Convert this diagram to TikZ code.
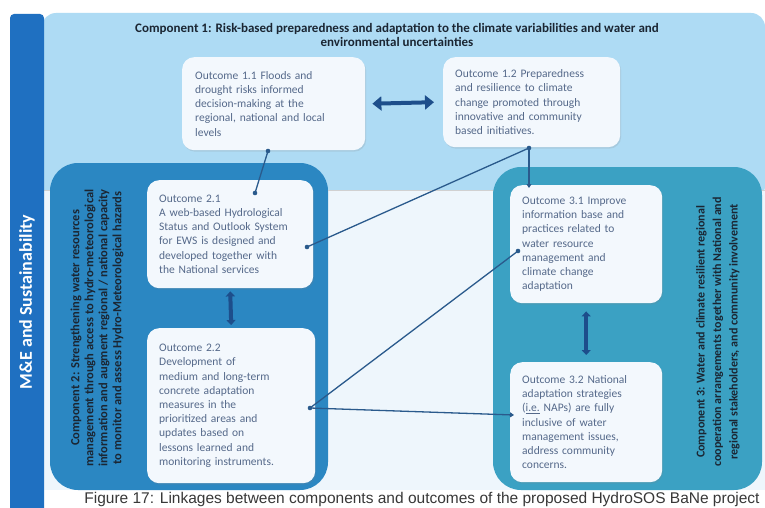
\documentclass[tikz,border=0pt]{standalone}
\usepackage{fontspec}
\setmainfont{Carlito}
\newfontfamily\capfont{Liberation Sans}
\usetikzlibrary{arrows.meta,shadows}
\definecolor{barblue}{HTML}{1F70C1}
\definecolor{skyblue}{HTML}{AEDBF4}
\definecolor{midpale}{HTML}{EEF6FC}
\definecolor{comptwo}{HTML}{2B87C2}
\definecolor{compthree}{HTML}{3BA1C3}
\definecolor{boxfill}{HTML}{F3F8FD}
\definecolor{linkblue}{HTML}{2A5A8C}
\definecolor{arrowblue}{HTML}{1D4E8B}
\definecolor{outtext}{HTML}{55698A}
\definecolor{comptext}{HTML}{1B2633}
\def\linkdot(#1){\fill[linkblue] (#1) circle (2.3);}
\tikzset{
	outcome/.style={rectangle, rounded corners=12pt, fill=boxfill, anchor=north west, inner sep=0pt, align=left,
		font=\fontsize{11.5}{14.2}\selectfont, text=outtext,
		drop shadow={opacity=0.18, shadow xshift=1pt, shadow yshift=-1.5pt}},
	complabel/.style={font=\bfseries\fontsize{12.5}{14}\selectfont, text=comptext, align=center},
	link/.style={draw=linkblue, line width=1.3pt},
	twoway/.style={draw=arrowblue, line width=4pt, {Triangle[width=14pt,length=9pt]}-{Triangle[width=14pt,length=9pt]}},
	shortway/.style={draw=arrowblue, line width=4pt, {Triangle[width=9pt,length=5pt]}-{Triangle[width=9pt,length=5pt]}},
}

\begin{document}
\begin{tikzpicture}[x=1pt,y=-1pt]
		%%%%% START %%%%%
		\useasboundingbox (0,0) rectangle (765,508);
		\fill[white] (0,0) rectangle (765,508);
		
		\fill[skyblue, rounded corners=14pt] (42,13) rectangle (765,200);
		\fill[midpale] (44,190) rectangle (765,490);
		\draw[black!18, line width=1.5pt] (44,190.5) -- (765,190.5);
		
		\fill[comptwo, rounded corners=28pt] (50,163) rectangle (328,490);
		\fill[compthree, rounded corners=28pt] (493,167) rectangle (762,490);
		
		\fill[barblue] (10,508) [rounded corners=4pt] -- (10,14) -- (44,14) [sharp corners] -- (44,508) -- cycle;
		\node[rotate=90, text=white, font=\bfseries\fontsize{18}{20}\selectfont] (me) at (27,302) {M\&E and Sustainability};
		
		\node[complabel, font=\bfseries\fontsize{13}{14.5}\selectfont] (c1) at (397,35) {Component 1: Risk-based preparedness and adaptation to the climate variabilities and water and\\environmental uncertainties};
		\node[complabel, rotate=90] (c2) at (97,328) {Component 2: Strengthening water resources\\management through access to hydro-meteorological\\information and augment regional / national capacity\\to monitor and assess Hydro-Meteorological hazards};
		\node[complabel, rotate=90, font=\bfseries\fontsize{12}{16.5}\selectfont] (c3) at (718,332) {Component 3: Water and climate resilient regional\\cooperation arrangements together with National and\\regional stakeholders, and community involvement};
		
		\node[outcome, minimum width=183pt, minimum height=93pt, text width=157pt] (o11) at (182,57) {Outcome 1.1 Floods and\\drought risks informed\\decision-making at the\\regional, national and local\\levels};
		\node[outcome, minimum width=177pt, minimum height=90pt, text width=153pt] (o12) at (443,57) {Outcome 1.2 Preparedness\\and resilience to climate\\change promoted through\\innovative and community\\based initiatives.};
		\node[outcome, minimum width=166pt, minimum height=108pt, text width=142pt] (o21) at (147,180) {Outcome 2.1\\A web-based Hydrological\\Status and Outlook System\\for EWS is designed and\\developed together with\\the National services};
		\node[outcome, minimum width=168pt, minimum height=155pt, text width=144pt] (o22) at (147,328) {Outcome 2.2\\Development of\\medium and long-term\\concrete adaptation\\measures in the\\prioritized areas and\\updates based on\\lessons learned and\\monitoring instruments.};
		\node[outcome, minimum width=152pt, minimum height=118pt, text width=128pt] (o31) at (510,185) {Outcome 3.1 Improve\\information base and\\practices related to\\water resource\\management and\\climate change\\adaptation};
		\node[outcome, minimum width=152pt, minimum height=120pt, text width=128pt] (o32) at (510,362) {Outcome 3.2 National\\adaptation strategies\\(\underline{i.e.} NAPs) are fully\\inclusive of water\\management issues,\\address community\\concerns.};
		
		\draw[twoway] ([xshift=7pt]o11.east) -- ([xshift=-9pt]o12.west);
		\draw[shortway] ([yshift=-3pt]o21.south) -- ([yshift=3pt]o22.north);
		\draw[shortway] ([yshift=-8pt]o31.south) -- ([yshift=7pt]o32.north);
		
		\coordinate (p11) at (268,151);
		\coordinate (p21a) at (255,193);
		\coordinate (p12) at (529,148);
		\coordinate (p21b) at (307,247);
		\coordinate (p31a) at (529,188);
		\coordinate (p22) at (310,408);
		\coordinate (p31b) at (518,251);
		\coordinate (p32) at (514,415);
		
		\draw[link] (p11) -- (p21a);
		\draw[link] (p12) -- (p21b);
		\draw[link, -{Triangle[width=5pt,length=4pt]}] (p12) -- (p31a);
		\draw[link] (p22) -- (p31b);
		\draw[link, -{Triangle[width=5pt,length=4pt]}] (p22) -- (p32);
		\linkdot(p11) \linkdot(p21a) \linkdot(p12) \linkdot(p21b) \linkdot(p22) \linkdot(p31b)
		
		\node[font=\capfont\fontsize{15.5}{17}\selectfont, text=black!78] (cap) at (422,499) {Figure 17: Linkages between components and outcomes of the proposed HydroSOS BaNe project};
		
		%%%%% END %%%%%
	\end{tikzpicture}
\end{document}
